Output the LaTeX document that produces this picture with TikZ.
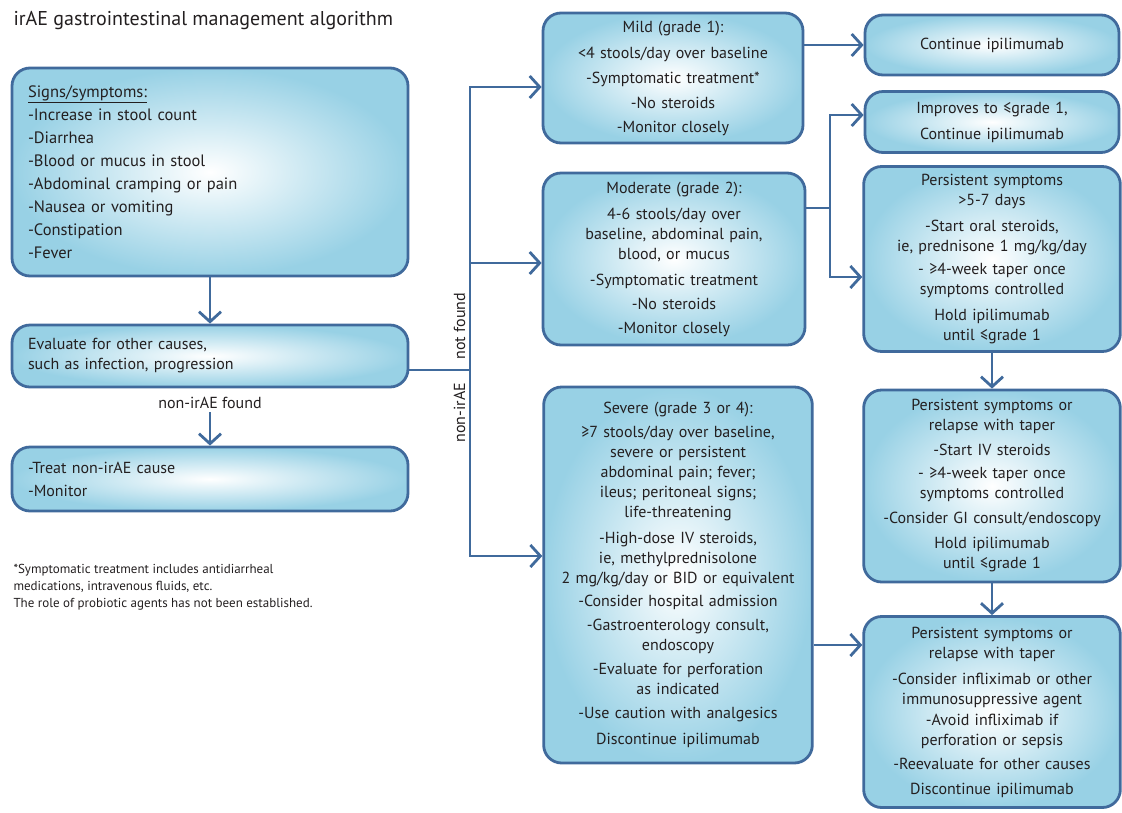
\documentclass[tikz,border=0pt]{standalone}
\usepackage{fontspec}
\setmainfont{PT Sans}
\usetikzlibrary{arrows.meta,positioning}

\definecolor{boxline}{RGB}{64,106,156}
\definecolor{boxfill}{RGB}{152,209,229}
\definecolor{inktext}{RGB}{35,31,32}

\tikzset{
  box/.style={draw=boxline, line width=2.8pt, rounded corners=18pt,
    inner color=white, outer color=boxfill, text=inktext,
    font=\fontsize{16}{20}\selectfont},
  listbox/.style={box, align=left, text width=364},
  stepbox/.style={box, align=center},
  line/.style={draw=boxline, line width=2.8pt},
  link/.style={line, -{Straight Barb[length=10pt, width=22pt, line width=2.8pt]}},
  tag/.style={text=inktext, font=\fontsize{16}{18}\selectfont}
}

\begin{document}
\begin{tikzpicture}[x=1pt, y=-1pt]
      \useasboundingbox (0,0) rectangle (1122,812);

      \node[tag, anchor=west, font=\fontsize{20}{24}\selectfont] (1) at (10,21) {irAE gastrointestinal management algorithm};

      \node[listbox, minimum width=396, minimum height=208, font=\fontsize{16.5}{23}\selectfont] (2) at (210,172)
        {\underline{Signs/symptoms:}\\ -Increase in stool count\\ -Diarrhea\\ -Blood or mucus in stool\\
         -Abdominal cramping or pain\\ -Nausea or vomiting\\ -Constipation\\ -Fever};
      \node[listbox, minimum width=396, minimum height=62] (3) at (210,356)
        {Evaluate for other causes,\\ such as infection, progression};
      \node[tag] (4) at (210,403) {non-irAE found};
      \node[listbox, minimum width=396, minimum height=64] (5) at (210,479)
        {-Treat non-irAE cause\\[3pt] -Monitor};
      \node[tag, anchor=north west, align=left, font=\fontsize{13}{17}\selectfont] (6) at (10,561)
        {*Symptomatic treatment includes antidiarrheal\\ medications, intravenous fluids, etc.\\
         The role of probiotic agents has not been established.};

      \node[stepbox, minimum width=260, minimum height=130, text width=250] (9) at (673,78)
        {Mild (grade 1):\\[6pt] {<}4 stools/day over baseline\\[5pt] -Symptomatic treatment*\\[5pt]
         -No steroids\\[4pt] -Monitor closely};
      \node[stepbox, minimum width=262, minimum height=172, text width=250] (10) at (674,259)
        {Moderate (grade 2):\\[6pt] 4-6 stools/day over\\ baseline, abdominal pain,\\ blood, or mucus\\[6pt]
         -Symptomatic treatment\\[4pt] -No steroids\\[4pt] -Monitor closely};
      \node[stepbox, minimum width=267, minimum height=376, text width=262] (11) at (678,575)
        {Severe (grade 3 or 4):\\[4pt] ≥7 stools/day over baseline,\\ severe or persistent\\ abdominal pain; fever;\\
         ileus; peritoneal signs;\\ life-threatening\\[6pt] -High-dose IV steroids,\\ ie, methylprednisolone\\
         2 mg/kg/day or BID or equivalent\\[3pt] -Consider hospital admission\\[4pt] -Gastroenterology consult,\\
         endoscopy\\[4pt] -Evaluate for perforation\\ as indicated\\[4pt] -Use caution with analgesics\\[6pt]
         Discontinue ipilimumab};

      \node[stepbox, minimum width=254, minimum height=60, text width=245] (12) at (992,45)
        {Continue ipilimumab};
      \node[stepbox, minimum width=254, minimum height=61, text width=245] (13) at (992,122)
        {Improves to ≤grade 1,\\[6pt] Continue ipilimumab};
      \node[stepbox, minimum width=254, minimum height=185, text width=250] (14) at (992,259)
        {Persistent symptoms\\ {>}5-7 days\\[6pt] -Start oral steroids,\\ ie, prednisone 1 mg/kg/day\\[3pt]
         - ≥4-week taper once\\ symptoms controlled\\[6pt] Hold ipilimumab\\ until ≤grade 1};
      \node[stepbox, minimum width=254, minimum height=192, text width=250] (15) at (992,486)
        {Persistent symptoms or\\ relapse with taper\\[5pt] -Start IV steroids\\[3pt] - ≥4-week taper once\\
         symptoms controlled\\[5pt] -Consider GI consult/endoscopy\\[5pt] Hold ipilimumab\\ until ≤grade 1};
      \node[stepbox, minimum width=254, minimum height=191, text width=250] (16) at (992,712)
        {Persistent symptoms or\\ relapse with taper\\[6pt] -Consider infliximab or other\\ immunosuppressive agent\\[1pt]
         -Avoid infliximab if\\ perforation or sepsis\\[4pt] -Reevaluate for other causes\\[5pt] Discontinue ipilimumab};

      \coordinate (17) at (470,370);
      \coordinate (18) at (470,87);
      \coordinate (19) at (470,263);
      \coordinate (20) at (470,556);
      \coordinate (21) at (830,208);
      \coordinate (22) at (830,115);
      \coordinate (23) at (830,277);
      \coordinate (24) at (840,645);

      \draw[link] (2) -- (3);
      \draw[link] (4) -- (5);
      \draw[line] (3.east |- 17) -- (17);
      \draw[link] (17) -- node[tag, rotate=90, anchor=south, pos=0.155] (7) {not found} (18) -- (9.west |- 18);
      \draw[link] (19) -- (10.west |- 19);
      \draw[link] (17) -- node[tag, rotate=90, anchor=south, pos=0.23] (8) {non-irAE} (20) -- (11.west |- 20);
      \draw[link] (9.east |- 12.west) -- (12.west);
      \draw[line] (10.east |- 21) -- (21);
      \draw[link] (21) -- (22) -- (13.west |- 22);
      \draw[link] (21) -- (23) -- (14.west |- 23);
      \draw[link] (14) -- (15);
      \draw[link] (15) -- (16);
      \draw[link] (11.east |- 24) -- (16.west |- 24);
    \end{tikzpicture}
\end{document}
